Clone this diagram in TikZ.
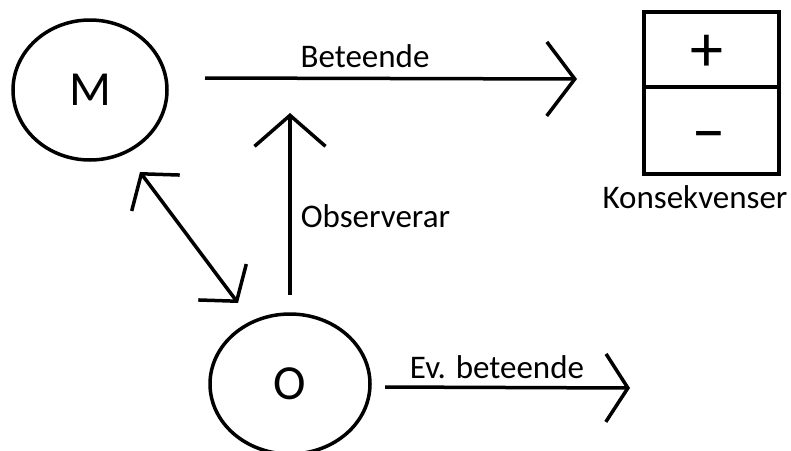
\documentclass[tikz,border=0pt]{standalone}
\usepackage{fontspec}
\setmainfont{Carlito}
\usetikzlibrary{arrows.meta,shapes.geometric}
\begin{document}
\begin{tikzpicture}[x=1pt,y=-1pt,
  line width=3.5pt,
  oval/.style={draw, ellipse, inner sep=0pt, font=\fontsize{49}{49}\selectfont},
  lbl/.style={font=\fontsize{33}{33}\selectfont, inner sep=0pt},
  sym/.style={font=\fontsize{66}{66}\selectfont, inner sep=0pt},
  ]
\clip (0,0) rectangle (791,450);
% nodes
\node[oval, minimum width=154pt, minimum height=140pt] (M) at (90,90) {M};
\node[oval, minimum width=160pt, minimum height=140pt] (O) at (290,384) {O};
\node[draw, minimum width=135pt, minimum height=162pt, anchor=north west, inner sep=0pt] (K) at (642,10) {};
\draw (642,87) -- (778,87);
\node[sym] (plus) at (707,53) {+};
\node[sym] (minus) at (709,143) {−};
\node[lbl] (kl) at (695,197) {Konsekvenser};
% connectors
\coordinate (b1) at (205,78);
\coordinate (b2) at (577,79);
\draw[-{Straight Barb[length=28pt,width=74pt]}] (b1) -- (b2);
\node[lbl] (bl) at (365,56) {Beteende};
\coordinate (o1) at (290,295);
\coordinate (o2) at (290,113);
\draw[-{Straight Barb[length=31pt,width=71pt]}] (o1) -- (o2);
\node[lbl, anchor=west] (ol) at (299,216) {Observerar};
\coordinate (d1) at (238,303);
\coordinate (d2) at (140,172);
\draw[{Straight Barb[length=24pt,width=60pt]}-{Straight Barb[length=24pt,width=60pt]}] (d1) -- (d2);
\coordinate (e1) at (385,387);
\coordinate (e2) at (630,388);
\draw[-{Straight Barb[length=22pt,width=68pt]}] (e1) -- (e2);
\node[lbl] (el) at (497,367) {Ev. beteende};
\end{tikzpicture}
\end{document}
